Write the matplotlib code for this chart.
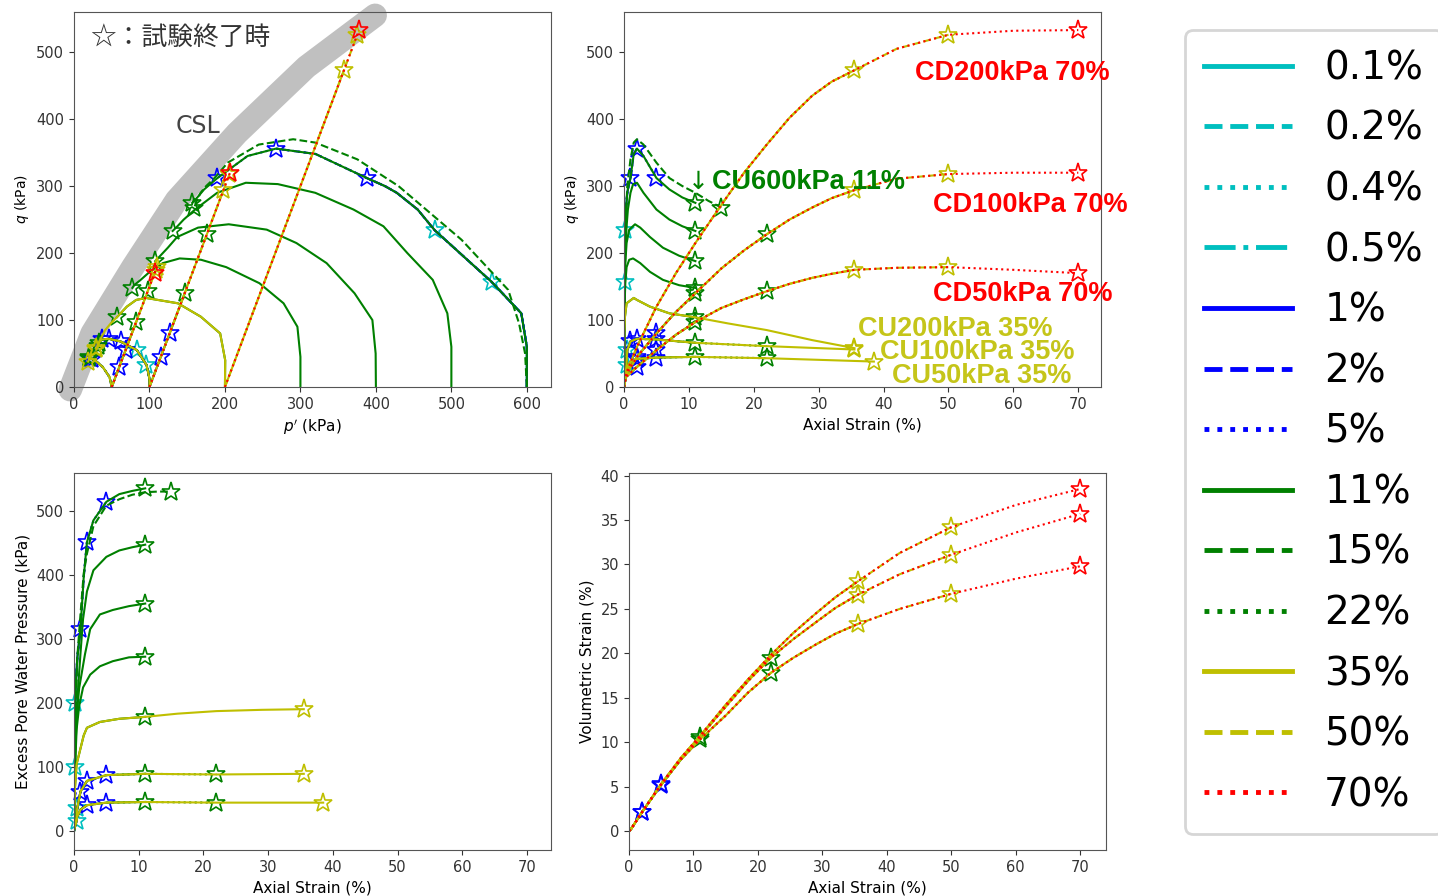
import numpy as np
import matplotlib.pyplot as plt
from matplotlib.lines import Line2D

plt.rcParams['font.family'] = ['DejaVu Sans']

# ---- undrained (CU) tests: axial strain (%), deviator stress q (kPa), excess pore pressure u (kPa)
cu600_strain = [0, 0.02, 0.05, 0.1, 0.2, 0.3, 0.5, 0.7, 1, 1.5, 2, 3, 5, 7, 9, 11]
cu600_q = [0, 60, 110, 157, 234, 265, 290, 300, 312, 348, 356, 345, 312, 295, 283, 275]
cu600_u = [0, 20, 44, 99, 200, 233, 269, 288, 316, 396, 451, 485, 514, 526, 531, 535]

# CU600 run to 15 % (dashed curve)
cu600b_strain = [0, 0.02, 0.05, 0.1, 0.2, 0.5, 1, 1.5, 2, 3, 5, 7, 9, 11, 13, 15]
cu600b_q = [0, 50, 95, 145, 220, 300, 340, 365, 370, 362, 335, 312, 300, 290, 278, 268]
cu600b_u = [0, 19, 42, 73, 160, 270, 338, 402, 433, 476, 508, 518, 525, 529, 530, 530]

cu500_strain = [0, 0.02, 0.05, 0.1, 0.2, 0.4, 0.6, 1, 1.4, 2, 3, 5, 7, 9, 11]
cu500_q = [0, 60, 110, 160, 200, 240, 265, 290, 303, 305, 290, 265, 250, 240, 233]
cu500_u = [0, 20, 42, 78, 125, 170, 218, 277, 331, 374, 407, 428, 438, 443, 447]

cu400_strain = [0, 0.02, 0.05, 0.1, 0.2, 0.4, 0.8, 1.7, 2.5, 4, 6, 8.5, 11]
cu400_q = [0, 50, 100, 140, 185, 215, 235, 243, 238, 224, 208, 196, 188]
cu400_u = [0, 17, 38, 75, 127, 177, 223, 276, 315, 338, 345, 351, 355]

cu300_strain = [0, 0.02, 0.05, 0.1, 0.2, 0.4, 0.8, 1.4, 2.5, 4, 6, 8.5, 11]
cu300_q = [0, 45, 90, 125, 155, 179, 190, 192, 185, 172, 160, 152, 148]
cu300_u = [0, 15, 34, 64, 106, 158, 195, 224, 244, 257, 265, 271, 272]

cu200_strain = [0, 0.02, 0.06, 0.15, 0.4, 1.5, 2, 4, 7, 11, 16, 22, 29, 35.5]
cu200_q = [0, 40, 80, 105, 125, 133, 130, 120, 110, 104, 95, 85, 70, 58]
cu200_u = [0, 13, 33, 67, 104, 149, 161, 170, 175, 178, 183, 187, 189, 190]

cu100_strain = [0, 0.05, 0.2, 0.4, 0.5, 1, 2, 5, 11, 22, 35.5]
cu100_q = [0, 12, 20, 33, 55, 68, 72, 71, 66, 61, 56]
cu100_u = [0, 4, 8, 15, 35, 61, 78, 87, 89, 88, 89]

cu50_strain = [0, 0.1, 0.5, 1, 2, 5, 11, 22, 38.5]
cu50_q = [0, 15, 30, 38, 42, 44, 45, 43, 38]
cu50_u = [0, 8, 22, 33, 40, 44, 45, 44, 44]

# ---- drained (CD) tests: axial strain (%), q (kPa), volumetric strain (%)
cd_strain = [0, 0.3, 2, 5, 8, 11, 15, 18.5, 22, 25.5, 29, 32, 35.5, 42, 50, 60, 70]
cd200_q = [0, 20, 60, 120, 170, 215, 272, 320, 362, 402, 435, 456, 473, 505, 526, 532, 533]
cd100_q = [0, 18, 45, 80, 112, 140, 177, 204, 228, 250, 268, 282, 294, 311, 318, 320, 320]
cd50_q = [0, 15, 30, 55, 78, 97, 118, 131, 143, 154, 163, 169, 175, 178, 179, 175, 170]
cd200_ev = [0, 0.2, 2.1, 5.3, 8.2, 10.7, 14.2, 17.1, 19.8, 22.3, 24.5, 26.3, 28.1, 31.3, 34.2, 36.7, 38.5]
cd100_ev = [0, 0.2, 2.1, 5.3, 8.1, 10.6, 14.0, 16.9, 19.5, 21.6, 23.5, 25.1, 26.6, 28.9, 31.1, 33.6, 35.7]
cd50_ev = [0, 0.2, 2.1, 5.2, 8.0, 10.3, 13.0, 15.6, 17.8, 19.5, 21.0, 22.2, 23.3, 25.0, 26.7, 28.4, 29.8]

# critical state line band (p', q)
csl_p = [-5, 24, 78, 136, 216, 308, 399]
csl_q = [-4, 80, 179, 279, 379, 478, 555]

# legend classes = strain at end of test
end_labels = ['0.1%', '0.2%', '0.4%', '0.5%', '1%', '2%', '5%',
              '11%', '15%', '22%', '35%', '50%', '70%']
end_classes = [0.1, 0.2, 0.4, 0.5, 1, 2, 5, 11, 15, 22, 35, 50, 70]
C, B, G, Y, R = '#00bfbf', '#0000ff', '#008000', '#bfbf00', '#ff0000'
styles = {0.1: (C, '-'), 0.2: (C, '--'), 0.4: (C, ':'), 0.5: (C, '-.'),
          1: (B, '-'), 2: (B, '--'), 5: (B, ':'),
          11: (G, '-'), 15: (G, '--'), 22: (G, ':'),
          35: (Y, '-'), 50: (Y, '--'), 70: (R, ':')}

cu_series = {
    'CU600': (600, cu600_strain, cu600_q, cu600_u),
    'CU600b': (600, cu600b_strain, cu600b_q, cu600b_u),
    'CU500': (500, cu500_strain, cu500_q, cu500_u),
    'CU400': (400, cu400_strain, cu400_q, cu400_u),
    'CU300': (300, cu300_strain, cu300_q, cu300_u),
    'CU200': (200, cu200_strain, cu200_q, cu200_u),
    'CU100': (100, cu100_strain, cu100_q, cu100_u),
    'CU50': (50, cu50_strain, cu50_q, cu50_u),
}
cd_series = {
    'CD200': (200, cd_strain, cd200_q, cd200_ev),
    'CD100': (100, cd_strain, cd100_q, cd100_ev),
    'CD50': (50, cd_strain, cd50_q, cd50_ev),
}

# (series, end class, last strain)
tests = [
    ('CU600', 0.1, 0.1), ('CU600', 0.2, 0.2), ('CU100', 0.4, 0.4), ('CU100', 0.5, 0.5),
    ('CU600', 1, 1), ('CU100', 1, 1),
    ('CU600', 2, 2), ('CU100', 2, 2), ('CU50', 2, 2), ('CD50', 2, 2), ('CD100', 2, 2),
    ('CU600', 5, 5), ('CU100', 5, 5), ('CU50', 5, 5), ('CD50', 5, 5), ('CD100', 5, 5),
    ('CU600', 11, 11), ('CU500', 11, 11), ('CU400', 11, 11), ('CU300', 11, 11),
    ('CU200', 11, 11), ('CU100', 11, 11), ('CU50', 11, 11), ('CD50', 11, 11), ('CD100', 11, 11),
    ('CU600b', 15, 15),
    ('CU100', 22, 22), ('CU50', 22, 22), ('CD50', 22, 22), ('CD100', 22, 22),
    ('CU200', 35, 35.5), ('CU100', 35, 35.5), ('CU50', 35, 38.5),
    ('CD50', 35, 35.5), ('CD100', 35, 35.5), ('CD200', 35, 35.5),
    ('CD50', 50, 50), ('CD100', 50, 50), ('CD200', 50, 50),
    ('CD50', 70, 70), ('CD100', 70, 70), ('CD200', 70, 70),
]

W, H = 1438, 896
fig = plt.figure(figsize=(W / 100, H / 100), dpi=100)
ax_pq = fig.add_axes([74 / W, 1 - 387 / H, 477 / W, 375 / H])
ax_qs = fig.add_axes([624 / W, 1 - 387 / H, 477 / W, 375 / H])
ax_us = fig.add_axes([74 / W, 1 - 850 / H, 477 / W, 377 / H])
ax_vs = fig.add_axes([629 / W, 1 - 850 / H, 477 / W, 377 / H])

ax_pq.plot(csl_p, csl_q, color='#c0c0c0', lw=17, solid_capstyle='round',
           clip_on=False, zorder=1)


def draw(ax, x, y, col, ls):
    ax.plot(x, y, color=col, ls=ls, lw=1.5)
    ax.plot(x[-1], y[-1], marker='*', ms=14, mfc='none', mec=col, mew=1.2,
            ls='none', clip_on=False)


for name, cls, last in tests:
    col, ls = styles[cls]
    if name in cu_series:
        p0, s, q, u = cu_series[name]
        s, q, u = np.asarray(s, float), np.asarray(q, float), np.asarray(u, float)
        k = s <= last + 1e-9
        s, q, u = s[k], q[k], u[k]
        draw(ax_pq, p0 + q / 3 - u, q, col, ls)
        draw(ax_qs, s, q, col, ls)
        draw(ax_us, s, u, col, ls)
    else:
        p0, s, q, ev = cd_series[name]
        s, q, ev = np.asarray(s, float), np.asarray(q, float), np.asarray(ev, float)
        k = s <= last + 1e-9
        s, q, ev = s[k], q[k], ev[k]
        draw(ax_pq, p0 + q / 3, q, col, ls)
        draw(ax_qs, s, q, col, ls)
        draw(ax_vs, s, ev, col, ls)

# axes setup
ax_pq.set_xlim(0, 632)
ax_pq.set_ylim(0, 560)
ax_pq.set_xticks(range(0, 601, 100))
ax_pq.set_yticks(range(0, 501, 100))
ax_pq.set_xlabel(r"$p'$ (kPa)", fontsize=11)
ax_pq.set_ylabel(r"$q$ (kPa)", fontsize=10)

ax_qs.set_xlim(0, 73.5)
ax_qs.set_ylim(0, 560)
ax_qs.set_xticks(range(0, 71, 10))
ax_qs.set_yticks(range(0, 501, 100))
ax_qs.set_xlabel('Axial Strain (%)', fontsize=11)
ax_qs.set_ylabel(r"$q$ (kPa)", fontsize=10)

ax_us.set_xlim(0, 73.7)
ax_us.set_ylim(-30, 559)
ax_us.set_xticks(range(0, 71, 10))
ax_us.set_yticks(range(0, 501, 100))
ax_us.set_xlabel('Axial Strain (%)', fontsize=11)
ax_us.set_ylabel('Excess Pore Water Pressure (kPa)', fontsize=11)

ax_vs.set_xlim(0, 74)
ax_vs.set_ylim(-2.14, 40.3)
ax_vs.set_xticks(range(0, 71, 10))
ax_vs.set_yticks(range(0, 41, 5))
ax_vs.set_xlabel('Axial Strain (%)', fontsize=11)
ax_vs.set_ylabel('Volumetric Strain (%)', fontsize=11)

for ax in (ax_pq, ax_qs, ax_us, ax_vs):
    ax.tick_params(labelsize=10.5, colors='#333333')
    for sp in ax.spines.values():
        sp.set_color('#555555')

# annotations
ax_pq.text(21, 522, '☆：試験終了時', fontsize=18.5, color='#333333', va='center',
           family=['Noto Sans CJK JP', 'DejaVu Sans'])
ax_pq.text(135, 390, 'CSL', fontsize=17, color='#444444', va='center')

lab = dict(fontsize=19.5, fontweight='bold', va='center', ha='left', clip_on=False,
           family=['Liberation Sans', 'DejaVu Sans'])
ax_qs.text(44.8, 469, 'CD200kPa 70%', color=R, **lab)
ax_qs.text(11.4, 306, '↓', color=G, fontsize=18, va='center', ha='center')
ax_qs.text(13.6, 306, 'CU600kPa 11%', color=G, **lab)
ax_qs.text(47.6, 272, 'CD100kPa 70%', color=R, **lab)
ax_qs.text(47.6, 139, 'CD50kPa 70%', color=R, **lab)
ax_qs.text(36.1, 87, 'CU200kPa 35%', color='#c5c51a', **lab)
ax_qs.text(39.4, 52, 'CU100kPa 35%', color='#c5c51a', **lab)
ax_qs.text(41.3, 16, 'CU50kPa 35%', color='#c5c51a', **lab)

handles = [Line2D([], [], color=styles[c][0], ls=styles[c][1], lw=3.5) for c in end_classes]
leg = fig.legend(handles, end_labels, loc='upper left',
                 bbox_to_anchor=(1185 / W, 1 - 30 / H), borderaxespad=0,
                 fontsize=28, handlelength=2.26, handletextpad=0.82,
                 labelspacing=0.58, borderpad=0.5, frameon=True, fancybox=True)
leg.get_frame().set_edgecolor('#cccccc')
leg.get_frame().set_linewidth(2)

fig.savefig('out.png', dpi=100)
